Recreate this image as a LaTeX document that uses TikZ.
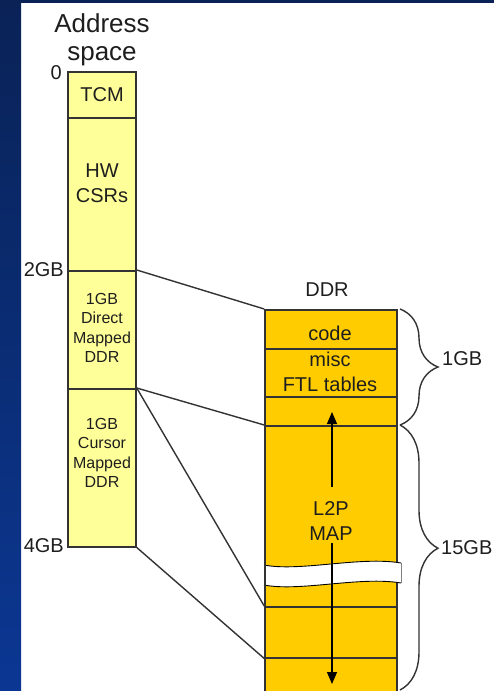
\documentclass[tikz,border=0pt]{standalone}
\usepackage{fontspec}
\setmainfont{Liberation Sans}
\usetikzlibrary{arrows.meta,decorations.pathreplacing}
\definecolor{lyel}{HTML}{FFFF99}
\definecolor{ddrfill}{HTML}{FFCC00}
\definecolor{edgec}{HTML}{333333}
\definecolor{txtc}{HTML}{1E1E1E}
\definecolor{navytop}{HTML}{0A2256}
\definecolor{navybot}{HTML}{0B3793}
\begin{document}
\begin{tikzpicture}[x=1pt,y=-1pt,
  lbox/.style={draw=edgec, line width=1.5pt, fill=lyel, minimum width=68pt, inner sep=0pt, anchor=north},
  dbox/.style={draw=edgec, line width=1.5pt, fill=ddrfill, minimum width=132pt, inner sep=0pt, anchor=north},
  rowbox/.style={draw=edgec, line width=1.5pt, minimum width=132pt, inner sep=0pt, anchor=north},
  conn/.style={draw=edgec, line width=1.4pt},
  bigtxt/.style={text=txtc, font=\fontsize{26}{28}\selectfont, align=center, inner sep=0pt},
  midtxt/.style={text=txtc, font=\fontsize{20}{25}\selectfont, align=center, inner sep=0pt},
  smalltxt/.style={text=txtc, font=\fontsize{16}{19.3}\selectfont, align=center, inner sep=0pt},
  bracec/.style={draw=edgec, line width=1.4pt, decorate},
  arr/.style={draw=black, line width=1.2pt, -{Triangle[width=10pt,length=12pt]}}
]
\useasboundingbox (0,0) rectangle (494,691);
\clip (0,0) rectangle (494,691);
\fill[white] (0,0) rectangle (494,691);
% blue frame
\fill[top color=navytop, bottom color=navybot] (0,0) rectangle (21,691);
\fill[navytop] (0,0) rectangle (494,3);

% address space column
\node[bigtxt] (title) at (102,40) {Address\\space};
\node[lbox, minimum height=46pt] (tcm) at (102,71) {};
\node[lbox, minimum height=153pt] (hw) at (102,117) {};
\node[lbox, minimum height=118pt] (dir) at (102,270) {};
\node[lbox, minimum height=158pt] (cur) at (102,388) {};
\node[midtxt] (tcmt) at (102,95) {TCM};
\node[midtxt] (hwt) at (102,183) {HW\\CSRs};
\node[smalltxt] (dirt) at (102,328) {1GB\\Direct\\Mapped\\DDR};
\node[smalltxt] (curt) at (102,453) {1GB\\Cursor\\Mapped\\DDR};
\node[midtxt, anchor=east] (l0) at (62,73) {0};
\node[midtxt, anchor=east] (l2) at (64,270) {2GB};
\node[midtxt, anchor=east] (l4) at (64,546) {4GB};

% DDR column
\node[midtxt] (ddrt) at (327,290) {DDR};
\node[dbox, minimum height=39pt] (code) at (331,309) {};
\node[dbox, minimum height=48pt] (misc) at (331,348) {};
\node[dbox, minimum height=29pt] (gap) at (331,396) {};
\node[dbox, minimum height=300pt] (l2p) at (331,425) {};
\node[midtxt] (codet) at (330,333) {code};
\node[midtxt] (misct) at (330,372) {misc\\FTL tables};
\node[midtxt] (l2pt) at (331,521) {L2P\\MAP};

% break band
\fill[white] (263,565) .. controls (300,572) and (360,556) .. (401,563) -- (401,583) .. controls (360,576) and (300,592) .. (263,585) -- cycle;
\draw[black, line width=0.9pt] (264,565) .. controls (300,572) and (360,556) .. (401,563);
\draw[black, line width=0.9pt] (264,585) .. controls (300,592) and (360,576) .. (401,583);
\draw[gray, line width=0.9pt] (401,563) -- (401,583);
\draw[edgec, line width=1.5pt] (265,563) -- (265,587);

\node[rowbox, minimum height=51pt] (rowa) at (331,606) {};

% arrows
\coordinate (upS) at (332,487);
\coordinate (upT) at (332,412);
\coordinate (dnS) at (332,543);
\coordinate (dnT) at (332,684);
\draw[arr] (upS) -- (upT);
\draw[arr] (dnS) -- (dnT);

% connectors
\draw[conn] (dir.north east) -- (code.north west);
\draw[conn] (cur.north east) -- (l2p.north west);
\draw[conn] (cur.north east) -- (rowa.north west);
\draw[conn] (cur.south east) -- (rowa.south west);

% braces
\coordinate (b1a) at (400,309);
\coordinate (b1b) at (400,425);
\coordinate (b2a) at (400,425);
\coordinate (b2b) at (400,690);
\draw[bracec, decoration={brace, amplitude=38pt}] (b1a) -- (b1b);
\draw[bracec, decoration={brace, amplitude=38pt, aspect=0.465}] (b2a) -- (b2b);
\node[midtxt, anchor=west] (g1) at (442,359) {1GB};
\node[midtxt, anchor=west] (g15) at (441,548) {15GB};
\end{tikzpicture}
\end{document}
